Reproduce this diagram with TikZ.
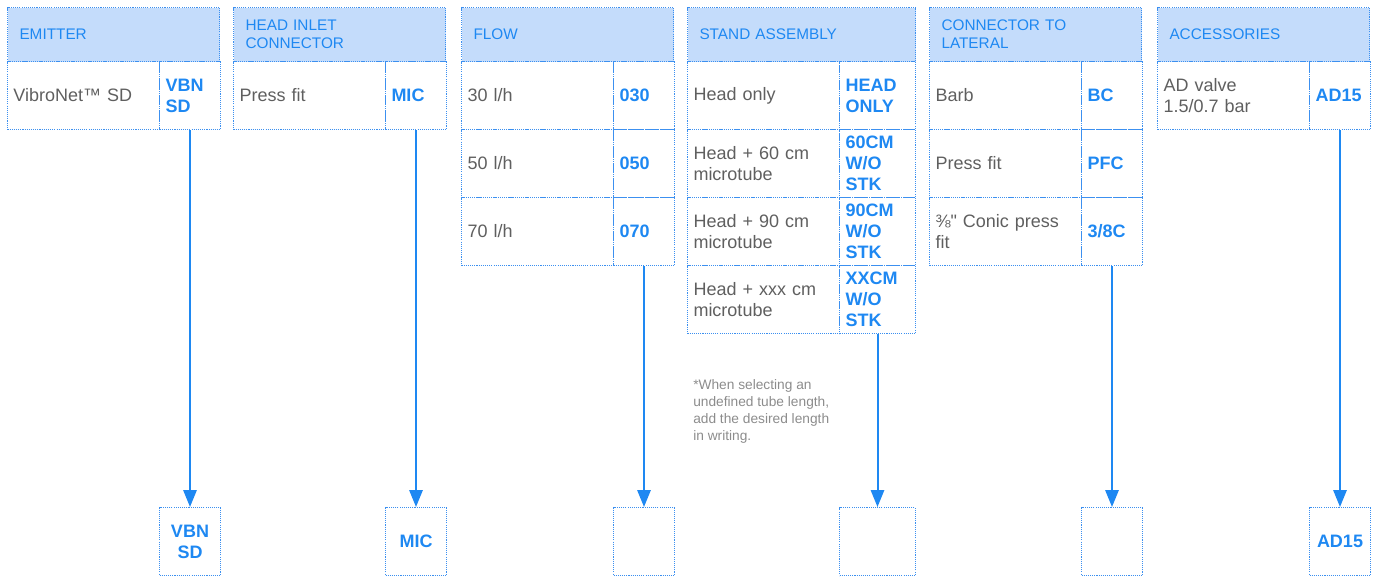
\documentclass[tikz,border=0pt]{standalone}
\usepackage{fontspec}
\setmainfont{Liberation Sans}[Ligatures=TeXOff]
\usetikzlibrary{arrows.meta,positioning}
\definecolor{cblue}{HTML}{1E88F2}
\definecolor{lblue}{HTML}{C4DCFB}
\definecolor{dotb}{HTML}{3C90F0}
\definecolor{ink2}{HTML}{5F5F5F}
\definecolor{faint}{HTML}{8C8C8C}
\tikzset{
  >={Triangle[length=12.75pt,width=10pt]},
  cell/.style={draw=dotb,dash pattern=on 0.8pt off 0.8pt,line width=0.75pt,anchor=north west,inner xsep=4.5pt,inner ysep=0pt,align=left,minimum height=51pt},
  hd/.style={cell,fill=lblue,text=cblue,minimum height=40.5pt,inner xsep=9pt,text width=141pt,font=\fontsize{11.5}{13.5}\selectfont},
  ds/.style={cell,text=ink2,text width=105pt,font=\fontsize{13.5}{16}\selectfont},
  cd/.style={cell,text=cblue,text width=36.75pt,font=\fontsize{13.5}{15.75}\selectfont\bfseries},
  res/.style={cd,align=center},
  arr/.style={->,draw=cblue,line width=1.5pt},
  note/.style={anchor=north west,align=left,inner sep=0pt,text=faint,font=\fontsize{10.3}{12.75}\selectfont},
}
\begin{document}
\begin{tikzpicture}[x=0.75pt,y=-0.75pt]
  \useasboundingbox (0,0) rectangle (1375,576);
  % emitter
  \node[hd] (em) at (7,7) {EMITTER};
  \node[ds] (em1) at (7,61) {VibroNet™ SD};
  \node[cd] (em1c) at (159,61) {VBN\\SD};
  \node[res] (emo) at (159,507) {VBN\\SD};
  % head inlet connector
  \node[hd] (hi) at (233,7) {HEAD INLET\\CONNECTOR};
  \node[ds] (hi1) at (233,61) {Press fit};
  \node[cd] (hi1c) at (385,61) {MIC};
  \node[res] (hio) at (385,507) {MIC};
  % flow
  \node[hd] (fl) at (461,7) {FLOW};
  \node[ds] (fl1) at (461,61) {30 l/h};
  \node[cd] (fl1c) at (613,61) {030};
  \node[ds] (fl2) at (461,129) {50 l/h};
  \node[cd] (fl2c) at (613,129) {050};
  \node[ds] (fl3) at (461,197) {70 l/h};
  \node[cd] (fl3c) at (613,197) {070};
  \node[res] (flo) at (613,507) {};
  % stand assembly
  \node[hd,text width=153pt] (sa) at (687,7) {STAND ASSEMBLY};
  \node[ds] (sa1) at (687,61) {Head only};
  \node[cd,text width=48pt] (sa1c) at (839,61) {HEAD\\ONLY};
  \node[ds] (sa2) at (687,129) {Head + 60 cm\\microtube};
  \node[cd,text width=48pt] (sa2c) at (839,129) {60CM\\W/O\\STK};
  \node[ds] (sa3) at (687,197) {Head + 90 cm\\microtube};
  \node[cd,text width=48pt] (sa3c) at (839,197) {90CM\\W/O\\STK};
  \node[ds] (sa4) at (687,265) {Head + xxx cm\\microtube};
  \node[cd,text width=48pt] (sa4c) at (839,265) {XXCM\\W/O\\STK};
  \node[res,text width=48pt] (sao) at (839,507) {};
  \node[note] (nt) at (693,379) {*When selecting an\\undefined tube length,\\add the desired length\\in writing.};
  % connector to lateral
  \node[hd] (cl) at (929,7) {CONNECTOR TO\\LATERAL};
  \node[ds] (cl1) at (929,61) {Barb};
  \node[cd] (cl1c) at (1081,61) {BC};
  \node[ds] (cl2) at (929,129) {Press fit};
  \node[cd] (cl2c) at (1081,129) {PFC};
  \node[ds] (cl3) at (929,197) {⅜" Conic press\\fit};
  \node[cd] (cl3c) at (1081,197) {3/8C};
  \node[res] (clo) at (1081,507) {};
  % accessories
  \node[hd] (ac) at (1157,7) {ACCESSORIES};
  \node[ds] (ac1) at (1157,61) {AD valve\\1.5/0.7 bar};
  \node[cd] (ac1c) at (1309,61) {AD15};
  \node[res] (aco) at (1309,507) {AD15};
  % arrows
  \draw[arr] (em1c.south) -- (emo.north);
  \draw[arr] (hi1c.south) -- (hio.north);
  \draw[arr] (fl3c.south) -- (flo.north);
  \draw[arr] (sa4c.south) -- (sao.north);
  \draw[arr] (cl3c.south) -- (clo.north);
  \draw[arr] (ac1c.south) -- (aco.north);
\end{tikzpicture}
\end{document}
